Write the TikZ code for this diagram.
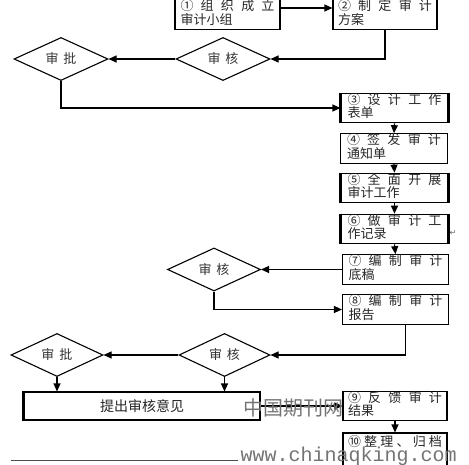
\documentclass[tikz,border=0pt]{standalone}
\usepackage{fontspec}
\newfontfamily\cjk{Noto Sans CJK SC}
\newfontfamily\monof{Liberation Mono}
\newfontfamily\djv{DejaVu Sans}
\usetikzlibrary{shapes.geometric,arrows.meta}
\newcommand\twolines[2]{\vbox{\baselineskip=13.5pt\lineskiplimit=-10pt\hbox to 94pt{#1}\hbox{#2}\kern4pt}}
\begin{document}
\begin{tikzpicture}[x=1pt,y=-1pt,
  box/.style={draw,line width=1.1pt,minimum height=28pt,inner sep=0pt,
    font=\cjk\fontsize{13}{13}\selectfont,text=black!85},
  dia/.style={draw,diamond,line width=1.1pt,inner sep=0pt,
    font=\cjk\fontsize{13}{14}\selectfont,text=black!80},
  arr/.style={line width=1.1pt,-{Triangle[length=8pt,width=7pt]}},
  thick side/.style={line width=2.6pt},
  wmark/.style={text=black!55}]
\useasboundingbox (0,0) rectangle (469,465);
% boxes
\node[box,minimum width=105pt] (b1) at (227.5,14.5) {\twolines{①\hfill 组\hfill 织\hfill 成\hfill 立}{审计小组}};
\node[box,minimum width=104pt] (b2) at (385,14.5) {\twolines{②\hfill 制\hfill 定\hfill 审\hfill 计}{方案}};
\node[box,minimum width=107pt] (b3) at (394.5,108) {\twolines{③\hfill 设\hfill 计\hfill 工\hfill 作}{表单}};
\node[box,minimum width=107pt,minimum height=27pt] (b4) at (394,148.5) {\twolines{④\hfill 签\hfill 发\hfill 审\hfill 计}{通知单}};
\node[box,minimum width=107pt] (b5) at (394.5,188) {\twolines{⑤\hfill 全\hfill 面\hfill 开\hfill 展}{审计工作}};
\node[box,minimum width=107pt] (b6) at (394.5,229) {\twolines{⑥\hfill 做\hfill 审\hfill 计\hfill 工}{作记录}};
\node[box,minimum width=106pt] (b7) at (395.5,269.5) {\twolines{⑦\hfill 编\hfill 制\hfill 审\hfill 计}{底稿}};
\node[box,minimum width=106pt,minimum height=27pt] (b8) at (395.5,309.5) {\twolines{⑧\hfill 编\hfill 制\hfill 审\hfill 计}{报告}};
\node[box,minimum width=104pt] (b9) at (395,406) {\twolines{⑨\hfill 反\hfill 馈\hfill 审\hfill 计}{结果}};
\node[box,minimum width=104pt,minimum height=40pt] (b10) at (395,453) {\vbox{\hbox to 94pt{⑩\hfill 整\hfill 理\hfill 、\hfill 归\hfill 档}\kern22pt}};
\node[box,minimum width=236pt,font=\cjk\fontsize{14}{14}\selectfont] (b11) at (142,406) {提出审核意见};
% diamonds
\node[dia,minimum width=94pt,minimum height=27pt] (d1) at (223,59) {审\hspace{5pt}核};
\node[dia,minimum width=94pt,minimum height=27pt] (d2) at (61,59) {审\hspace{5pt}批};
\node[dia,minimum width=93pt,minimum height=27pt] (d3) at (214,269.5) {审\hspace{5pt}核};
\node[dia,minimum width=91pt,minimum height=25pt] (d4) at (224.5,355) {审\hspace{5pt}核};
\node[dia,minimum width=92pt,minimum height=25pt] (d5) at (57,355) {审\hspace{5pt}批};
% thick sides
\draw[thick side] (b3.north west) -- (b3.south west);
\draw[thick side] (b3.north east) -- (b3.south east);
\draw[thick side] (b5.north west) -- (b5.south west);
\draw[thick side] (b5.north east) -- (b5.south east);
\draw[thick side] (b6.north west) -- (b6.south west);
\draw[thick side] (b6.north east) -- (b6.south east);
\draw[thick side] (b11.north west) -- (b11.south west);
% connectors
\draw[arr] ([yshift=6.5pt]b1.east) -- ([yshift=6.5pt]b2.west);
\draw[arr] (b2.south) |- (d1.east);
\draw[arr] (d1.west) -- (d2.east);
\draw[arr] (d2.south) |- (b3.west);
\draw[arr] (b3.south) -- (b4.north);
\draw[arr] (b4.south) -- (b5.north);
\draw[arr] (b5.south) -- (b6.north);
\draw[arr] (b6.south) -- (b7.north);
\draw[arr] (b7.west) -- (d3.east);
\draw[arr] (d3.south) |- (b8.west);
\draw[arr] ([xshift=10pt]b8.south) |- (d4.east);
\draw[arr] (d4.west) -- (d5.east);
\draw[arr] (d5.south) -- (d5.south |- b11.north);
\draw[arr] (d4.south) -- (d4.south |- b11.north);
\draw[arr] (b11.east) -- (b9.west);
\draw[arr] (b9.south) -- (b10.north);
% page marks and watermark
\node[font=\djv\fontsize{8}{8}\selectfont,text=black!60] (pm) at (453,233) {↵};
\draw[line width=0.8pt,black!70] (11,460) -- (238,460);
\node[wmark,font=\cjk\fontsize{20}{20}\selectfont] (wm1) at (293,408) {中国期刊网};
\node[wmark,font=\monof\fontsize{20}{20}\selectfont,anchor=base west] (wm2) at (237,461) {www.chinaqking.com};
\end{tikzpicture}
\end{document}
